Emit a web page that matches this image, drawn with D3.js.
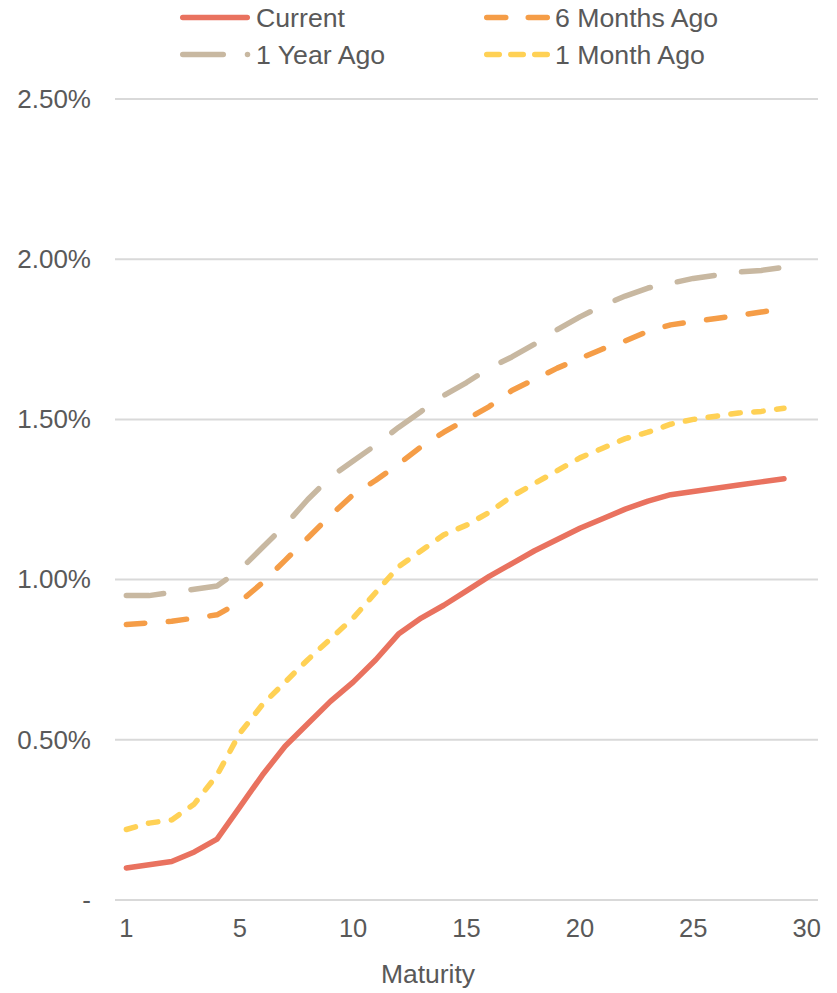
<!DOCTYPE html>
<html>
<head>
<meta charset="utf-8">
<script src="https://cdn.jsdelivr.net/npm/d3@7"></script>
<style>
  html, body { margin: 0; padding: 0; background: #ffffff; }
  svg { display: block; }
  text { font-family: "Liberation Sans", Arial, sans-serif; fill: #595959; }
</style>
</head>
<body>
<svg id="chart" width="837" height="993"></svg>
<script>
// Category slots along the maturity axis (one slot per year bucket)
const slots = [0, 1, 2, 3, 4, 5, 6, 7, 8, 9, 10, 11, 12, 13, 14, 15,
               16, 17, 18, 19, 20, 21, 22, 23, 24, 25, 26, 27, 28, 29, 30];
const tickSlots = [0, 5, 10, 15, 20, 25, 30];
const tickLabels = ["1", "5", "10", "15", "20", "25", "30"];

// Yield curves, in percent, for slots 0..29
const current = [0.10, 0.11, 0.12, 0.15, 0.19, 0.29, 0.39, 0.48, 0.55, 0.62,
                 0.68, 0.75, 0.83, 0.88, 0.92, 0.965, 1.01, 1.05, 1.09, 1.125,
                 1.16, 1.19, 1.22, 1.245, 1.265, 1.275, 1.285, 1.295, 1.305, 1.315];
const sixMonthsAgo = [0.86, 0.865, 0.87, 0.88, 0.89, 0.93, 0.99, 1.06, 1.13, 1.20,
                      1.265, 1.31, 1.36, 1.415, 1.46, 1.50, 1.54, 1.59, 1.625, 1.66,
                      1.69, 1.72, 1.745, 1.775, 1.795, 1.805, 1.815, 1.825, 1.835, 1.845];
const oneYearAgo = [0.95, 0.95, 0.96, 0.97, 0.98, 1.03, 1.10, 1.17, 1.25, 1.32,
                    1.37, 1.42, 1.475, 1.525, 1.575, 1.615, 1.66, 1.695, 1.735, 1.78,
                    1.82, 1.855, 1.885, 1.91, 1.925, 1.94, 1.95, 1.96, 1.965, 1.975];
const oneMonthAgo = [0.22, 0.24, 0.25, 0.30, 0.39, 0.52, 0.61, 0.68, 0.75, 0.815,
                     0.88, 0.96, 1.04, 1.09, 1.14, 1.17, 1.21, 1.26, 1.30, 1.34,
                     1.38, 1.41, 1.44, 1.46, 1.485, 1.50, 1.51, 1.52, 1.525, 1.535];

const yTicks = [0, 0.5, 1.0, 1.5, 2.0, 2.5];
const yTickLabels = ["-", "0.50%", "1.00%", "1.50%", "2.00%", "2.50%"];

const series = [
  { name: "Current",      values: current,      color: "#E9725F", dash: null },
  { name: "6 Months Ago", values: sixMonthsAgo, color: "#F59D47", dash: "18.5,23.5" },
  { name: "1 Year Ago",   values: oneYearAgo,   color: "#C8B8A1", dash: "37.5,27.5" },
  { name: "1 Month Ago",  values: oneMonthAgo,  color: "#FFD155", dash: "9.5,13.5" }
];

const svg = d3.select("#chart");
const plot = { left: 115, right: 818, top: 99, bottom: 900 };

const x = d3.scaleBand().domain(slots).range([plot.left, plot.right]).paddingInner(0).paddingOuter(0);
const cx = s => x(s) + x.bandwidth() / 2;
const y = d3.scaleLinear().domain([0, 2.5]).range([plot.bottom, plot.top]);

// Horizontal gridlines
svg.append("g")
  .selectAll("line")
  .data(yTicks)
  .join("line")
  .attr("x1", plot.left).attr("x2", plot.right)
  .attr("y1", d => y(d)).attr("y2", d => y(d))
  .attr("stroke", "#D9D9D9").attr("stroke-width", 2);

// Y axis labels
const yAxis = d3.axisLeft(y).tickValues(yTicks)
  .tickFormat((d, i) => yTickLabels[i]).tickSize(0).tickPadding(0);
svg.append("g")
  .attr("transform", "translate(91,0)")
  .call(yAxis)
  .call(g => g.select(".domain").remove())
  .call(g => g.selectAll("text")
    .attr("fill", "#595959")
    .attr("font-size", 26)
    .attr("font-family", "'Liberation Sans', Arial, sans-serif"));

// X axis labels
const xAxis = d3.axisBottom(x).tickValues(tickSlots)
  .tickFormat((d, i) => tickLabels[i]).tickSize(0).tickPadding(0);
svg.append("g")
  .attr("transform", "translate(0,919)")
  .call(xAxis)
  .call(g => g.select(".domain").remove())
  .call(g => g.selectAll("text")
    .attr("dy", "0.71em")
    .attr("fill", "#595959")
    .attr("font-size", 25.5)
    .attr("font-family", "'Liberation Sans', Arial, sans-serif"));

svg.append("text")
  .attr("x", 428).attr("y", 983)
  .attr("text-anchor", "middle")
  .attr("font-size", 26.5)
  .text("Maturity");

// Curves
const line = d3.line()
  .x((d, i) => cx(slots[i]))
  .y(d => y(d));

svg.append("g")
  .selectAll("path")
  .data(series)
  .join("path")
  .attr("d", d => line(d.values))
  .attr("fill", "none")
  .attr("stroke", d => d.color)
  .attr("stroke-width", 5.5)
  .attr("stroke-linecap", "round")
  .attr("stroke-linejoin", "round")
  .attr("stroke-dasharray", d => d.dash);

// Legend
const legend = svg.append("g");
const legendItems = [
  { s: series[0], x1: 182.75, x2: 247.25, y: 17.5, tx: 256, dash: null },
  { s: series[2], x1: 182.75, x2: 223.25, y: 54.5, tx: 256, dash: null, dot: 247.5 },
  { s: series[1], x1: 486.75, x2: 547.25, y: 17.5, tx: 555, dash: "19,22.5" },
  { s: series[3], x1: 486.75, x2: 547.25, y: 54.5, tx: 555, dash: "12.5,11.5" }
];
legendItems.forEach(it => {
  legend.append("line")
    .attr("x1", it.x1).attr("x2", it.x2)
    .attr("y1", it.y).attr("y2", it.y)
    .attr("stroke", it.s.color).attr("stroke-width", 5.5)
    .attr("stroke-linecap", "round")
    .attr("stroke-dasharray", it.dash);
  if (it.dot) {
    legend.append("circle")
      .attr("cx", it.dot).attr("cy", it.y).attr("r", 2.75)
      .attr("fill", it.s.color);
  }
  legend.append("text")
    .attr("x", it.tx).attr("y", it.y + 9.5)
    .attr("font-size", 26.7)
    .text(it.s.name);
});
</script>
</body>
</html>
